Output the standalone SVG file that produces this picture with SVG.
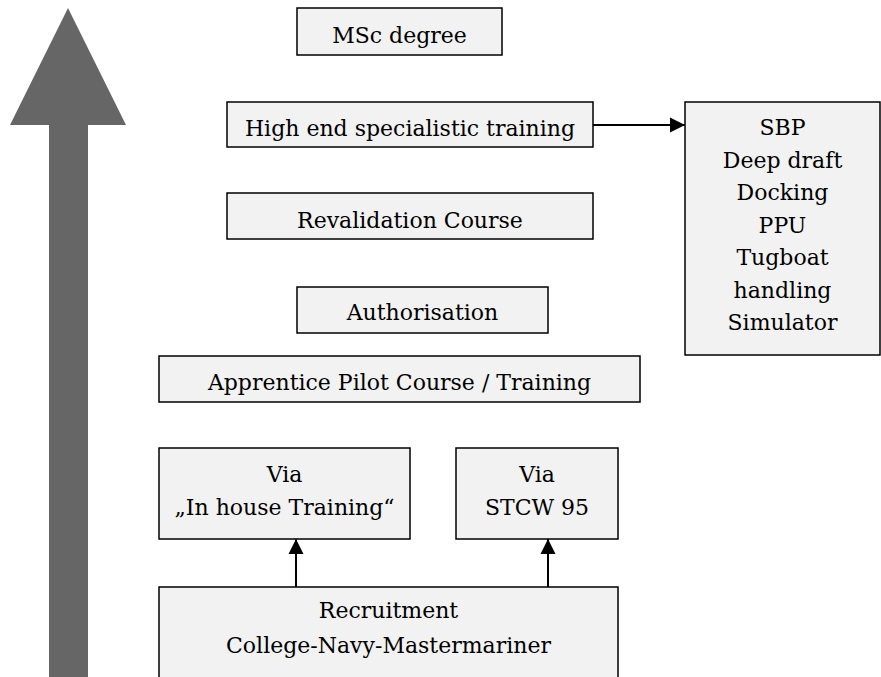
<svg xmlns="http://www.w3.org/2000/svg" width="881" height="677" viewBox="0 0 881 677">
<defs>
<style>
.box{fill:#f2f2f2;stroke:#000;stroke-width:1.5}
.t{font-family:'DejaVu Serif','Liberation Serif',serif;font-size:22px;fill:#000;text-anchor:middle}
.conn{stroke:#000;stroke-width:2;fill:none}
</style>
<marker id="ah" markerWidth="16" markerHeight="16" refX="15" refY="8" orient="auto" markerUnits="userSpaceOnUse">
<path d="M0,0.5 L15,8 L0,15.5 Z" fill="#000"/>
</marker>
</defs>
<rect width="881" height="677" fill="#fff"/>
<g id="progress-arrow">
<polygon points="68,8 126,125 88,125 88,677 49,677 49,125 10,125" fill="#666"/>
</g>
<g id="msc"><rect class="box" x="297" y="8" width="205" height="47"/><text class="t" x="399.5" y="43">MSc degree</text></g>
<g id="highend"><rect class="box" x="227" y="102" width="366" height="45"/><text class="t" x="410" y="136">High end specialistic training</text></g>
<g id="revalidation"><rect class="box" x="227" y="193" width="366" height="46"/><text class="t" x="410" y="228">Revalidation Course</text></g>
<g id="authorisation"><rect class="box" x="297" y="287" width="251" height="46"/><text class="t" x="422.5" y="320">Authorisation</text></g>
<g id="apprentice"><rect class="box" x="159" y="356" width="481" height="46"/><text class="t" x="399.5" y="390">Apprentice Pilot Course / Training</text></g>
<g id="specialist"><rect class="box" x="685" y="102" width="195" height="253"/>
<text class="t" x="782.5" y="135">SBP</text>
<text class="t" x="782.5" y="167.5">Deep draft</text>
<text class="t" x="782.5" y="200">Docking</text>
<text class="t" x="782.5" y="232.5">PPU</text>
<text class="t" x="782.5" y="265">Tugboat</text>
<text class="t" x="782.5" y="297.5">handling</text>
<text class="t" x="782.5" y="330">Simulator</text>
</g>
<g id="inhouse"><rect class="box" x="159" y="448" width="251" height="91"/><text class="t" x="284.5" y="482">Via</text><text class="t" x="284.5" y="515">„In house Training“</text></g>
<g id="stcw"><rect class="box" x="456" y="448" width="162" height="91"/><text class="t" x="537" y="482">Via</text><text class="t" x="537" y="515">STCW 95</text></g>
<g id="recruitment"><rect class="box" x="159" y="587" width="459" height="100"/><text class="t" x="388.5" y="618">Recruitment</text><text class="t" x="388.5" y="653">College-Navy-Mastermariner</text></g>
<g id="connectors">
<line class="conn" x1="593" y1="125" x2="685" y2="125" marker-end="url(#ah)"/>
<line class="conn" x1="296" y1="587" x2="296" y2="539" marker-end="url(#ah)"/>
<line class="conn" x1="548" y1="587" x2="548" y2="539" marker-end="url(#ah)"/>
</g>
</svg>
